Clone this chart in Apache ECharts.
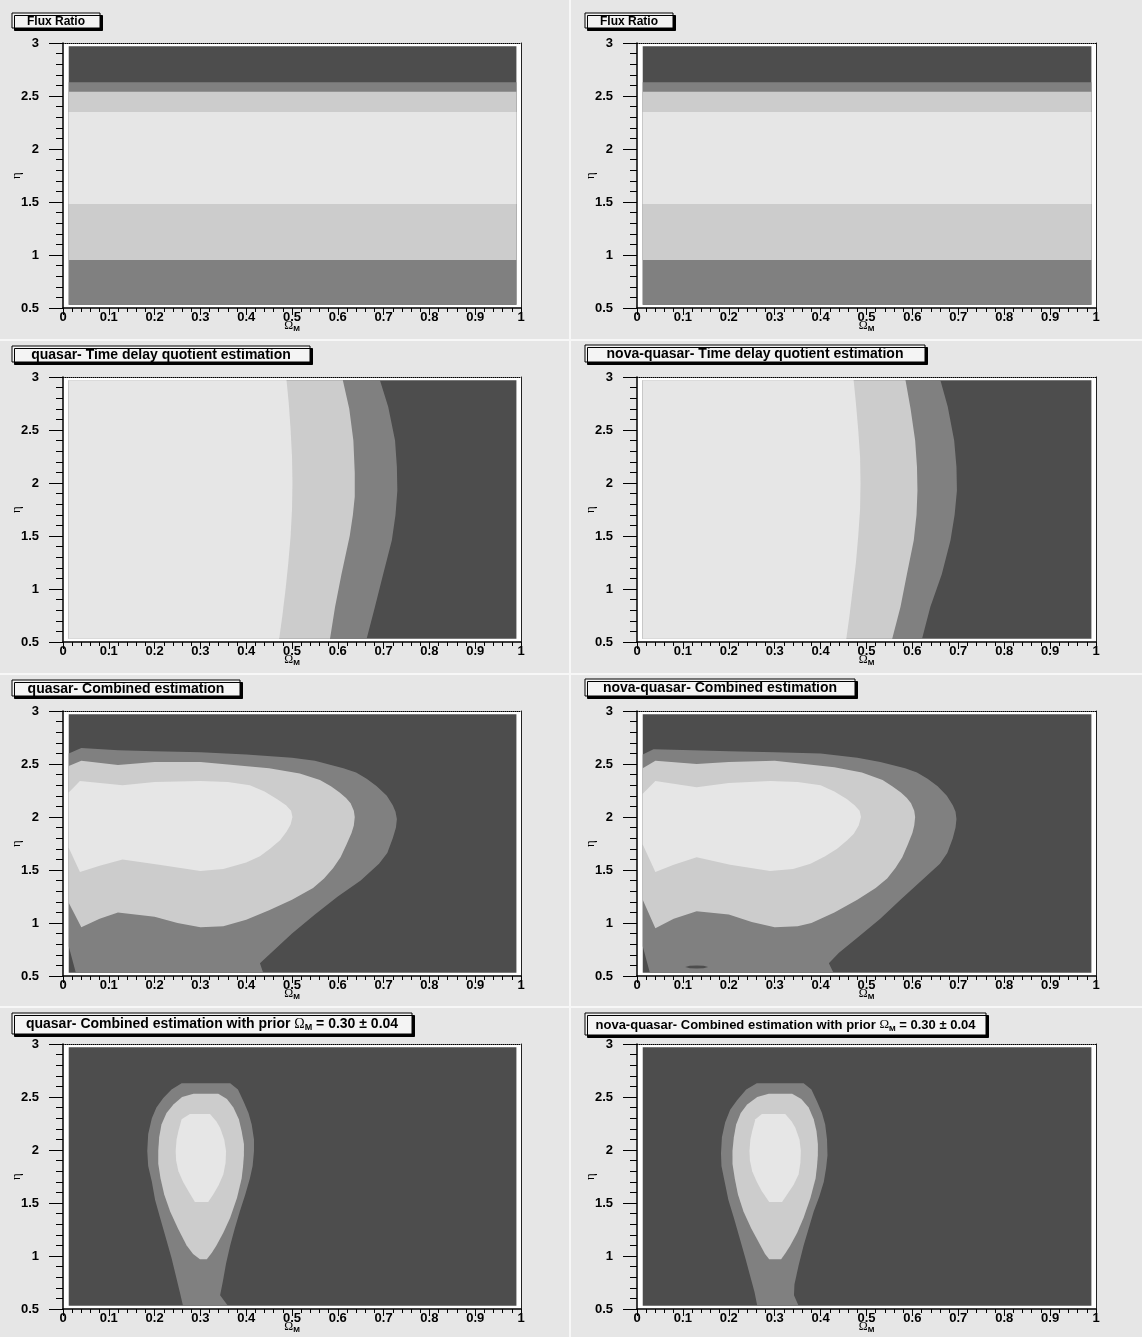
<!DOCTYPE html>
<html>
<head>
<meta charset="utf-8">
<script src="https://cdn.jsdelivr.net/npm/echarts@6/dist/echarts.min.js"></script>
<style>
  html, body { margin: 0; padding: 0; background: #e6e6e6; }
  #chart { width: 1142px; height: 1337px; }
</style>
</head>
<body>
<div id="chart"></div>
<script>
// grey levels of the contour fill, darkest = lowest likelihood
const levelColors = ['#4d4d4d', '#808080', '#cccccc', '#e6e6e6'];

// axis ticks
const omegaRange = [0, 1, 0.1];
const etaRange = [0.5, 3, 0.5];

// extent of the filled contour grid (first / last bin centre)
const fillOmega = [0.0125, 0.99];
const fillEta = [0.53, 2.97];

const panelTitles = [
  'Flux Ratio', 'Flux Ratio',
  'quasar- Time delay quotient estimation', 'nova-quasar- Time delay quotient estimation',
  'quasar- Combined estimation', 'nova-quasar- Combined estimation',
  'quasar- Combined estimation with prior ', 'nova-quasar- Combined estimation with prior '
];
const priorText = ' = 0.30 \u00b1 0.04';

// ---- Flux ratio (eta bands, same for both) ----
const fluxLevel1 = [0.53, 2.63];
const fluxLevel2 = [0.953, 2.54];
const fluxLevel3 = [1.48, 2.35];

// ---- Time delay quotient: right-hand edge of each level, bottom to top ----
const tdQuasar1 = [[0.663, 0.53], [0.681, 0.83], [0.699, 1.14], [0.718, 1.46], [0.726, 1.70], [0.730, 1.93], [0.729, 2.15], [0.725, 2.40], [0.710, 2.72], [0.692, 2.97]];
const tdQuasar2 = [[0.583, 0.53], [0.594, 0.83], [0.608, 1.14], [0.626, 1.50], [0.633, 1.70], [0.637, 1.87], [0.637, 2.10], [0.634, 2.40], [0.625, 2.70], [0.611, 2.97]];
const tdQuasar3 = [[0.472, 0.53], [0.479, 0.75], [0.486, 1.00], [0.492, 1.25], [0.497, 1.50], [0.500, 1.75], [0.501, 2.00], [0.500, 2.25], [0.497, 2.50], [0.493, 2.75], [0.488, 2.97]];

const tdNova1 = [[0.621, 0.53], [0.639, 0.83], [0.664, 1.14], [0.683, 1.46], [0.692, 1.70], [0.697, 1.93], [0.696, 2.15], [0.691, 2.40], [0.677, 2.72], [0.661, 2.97]];
const tdNova2 = [[0.556, 0.53], [0.574, 0.83], [0.588, 1.14], [0.603, 1.46], [0.609, 1.70], [0.611, 1.93], [0.610, 2.15], [0.606, 2.40], [0.596, 2.70], [0.585, 2.97]];
const tdNova3 = [[0.456, 0.53], [0.463, 0.75], [0.470, 1.00], [0.477, 1.25], [0.482, 1.50], [0.486, 1.75], [0.487, 2.00], [0.486, 2.25], [0.482, 2.50], [0.477, 2.75], [0.472, 2.97]];

// ---- Combined estimation: closed contours ----
const combQuasar1 = [[0.0125, 0.78], [0.028, 0.53], [0.437, 0.53], [0.43, 0.62], [0.45, 0.70], [0.50, 0.90], [0.55, 1.08], [0.60, 1.25], [0.65, 1.40], [0.69, 1.56], [0.708, 1.66], [0.72, 1.80], [0.727, 1.90], [0.729, 1.98], [0.726, 2.05], [0.72, 2.11], [0.707, 2.20], [0.685, 2.29], [0.663, 2.36], [0.64, 2.42], [0.612, 2.46], [0.55, 2.53], [0.50, 2.56], [0.40, 2.59], [0.30, 2.61], [0.20, 2.62], [0.12, 2.63], [0.04, 2.65], [0.0125, 2.60]];
const combQuasar2 = [[0.0125, 1.19], [0.04, 0.96], [0.08, 1.04], [0.12, 1.10], [0.20, 1.06], [0.25, 1.00], [0.30, 0.96], [0.35, 0.97], [0.40, 1.03], [0.45, 1.12], [0.50, 1.22], [0.546, 1.33], [0.57, 1.42], [0.59, 1.52], [0.606, 1.62], [0.619, 1.74], [0.63, 1.85], [0.635, 1.92], [0.637, 2.00], [0.635, 2.06], [0.628, 2.13], [0.618, 2.18], [0.604, 2.23], [0.585, 2.29], [0.561, 2.35], [0.517, 2.41], [0.45, 2.46], [0.30, 2.52], [0.20, 2.52], [0.12, 2.49], [0.04, 2.53], [0.0125, 2.48]];
const combQuasar3 = [[0.0125, 1.71], [0.037, 1.48], [0.08, 1.54], [0.13, 1.60], [0.21, 1.55], [0.30, 1.49], [0.35, 1.51], [0.40, 1.57], [0.43, 1.63], [0.452, 1.70], [0.474, 1.78], [0.488, 1.86], [0.497, 1.93], [0.501, 2.00], [0.498, 2.06], [0.487, 2.11], [0.467, 2.17], [0.44, 2.24], [0.408, 2.30], [0.36, 2.33], [0.30, 2.34], [0.20, 2.33], [0.13, 2.30], [0.037, 2.34], [0.0125, 2.23]];

const combNova1 = [[0.0125, 0.78], [0.028, 0.53], [0.428, 0.53], [0.418, 0.62], [0.44, 0.72], [0.48, 0.86], [0.53, 1.04], [0.574, 1.22], [0.62, 1.40], [0.66, 1.56], [0.676, 1.66], [0.688, 1.80], [0.694, 1.90], [0.696, 1.98], [0.694, 2.05], [0.688, 2.11], [0.675, 2.20], [0.655, 2.29], [0.633, 2.36], [0.61, 2.42], [0.584, 2.46], [0.53, 2.52], [0.48, 2.56], [0.40, 2.60], [0.30, 2.61], [0.20, 2.62], [0.12, 2.63], [0.036, 2.64], [0.0125, 2.59]];
const combNova2 = [[0.0125, 1.22], [0.04, 0.95], [0.08, 1.04], [0.13, 1.11], [0.20, 1.08], [0.25, 1.01], [0.30, 0.96], [0.35, 0.97], [0.38, 1.00], [0.43, 1.10], [0.48, 1.22], [0.52, 1.33], [0.545, 1.42], [0.563, 1.52], [0.578, 1.62], [0.59, 1.74], [0.60, 1.85], [0.604, 1.92], [0.606, 2.00], [0.604, 2.06], [0.597, 2.13], [0.588, 2.18], [0.575, 2.23], [0.556, 2.29], [0.535, 2.35], [0.49, 2.42], [0.43, 2.47], [0.30, 2.53], [0.20, 2.52], [0.13, 2.50], [0.04, 2.53], [0.0125, 2.46]];
const combNova3 = [[0.0125, 1.74], [0.04, 1.48], [0.08, 1.55], [0.13, 1.62], [0.203, 1.55], [0.29, 1.49], [0.34, 1.51], [0.378, 1.56], [0.41, 1.63], [0.436, 1.70], [0.458, 1.78], [0.472, 1.84], [0.483, 1.92], [0.488, 2.00], [0.485, 2.06], [0.474, 2.11], [0.457, 2.17], [0.43, 2.24], [0.40, 2.30], [0.35, 2.33], [0.29, 2.34], [0.20, 2.32], [0.13, 2.28], [0.04, 2.34], [0.0125, 2.22]];
const combNovaHole = [[0.105, 0.585], [0.115, 0.596], [0.13, 0.599], [0.145, 0.596], [0.155, 0.585], [0.145, 0.574], [0.13, 0.571], [0.115, 0.574]];

// ---- Combined with prior ----
const priorQuasar1 = [[0.262, 0.53], [0.255, 0.66], [0.246, 0.82], [0.237, 0.98], [0.224, 1.18], [0.212, 1.36], [0.201, 1.53], [0.194, 1.70], [0.186, 1.85], [0.184, 1.99], [0.186, 2.15], [0.194, 2.30], [0.204, 2.40], [0.219, 2.49], [0.237, 2.57], [0.259, 2.63], [0.365, 2.63], [0.382, 2.57], [0.394, 2.46], [0.405, 2.35], [0.412, 2.24], [0.417, 2.10], [0.417, 1.99], [0.414, 1.85], [0.408, 1.73], [0.398, 1.58], [0.386, 1.42], [0.375, 1.26], [0.365, 1.10], [0.356, 0.93], [0.349, 0.76], [0.343, 0.63], [0.36, 0.53]];
const priorQuasar2 = [[0.299, 0.97], [0.284, 1.02], [0.27, 1.10], [0.251, 1.26], [0.234, 1.42], [0.221, 1.58], [0.213, 1.73], [0.208, 1.87], [0.208, 1.99], [0.21, 2.12], [0.215, 2.24], [0.226, 2.35], [0.241, 2.43], [0.26, 2.50], [0.285, 2.53], [0.339, 2.53], [0.358, 2.48], [0.372, 2.40], [0.384, 2.29], [0.39, 2.18], [0.395, 2.06], [0.395, 1.95], [0.393, 1.84], [0.39, 1.73], [0.38, 1.55], [0.365, 1.36], [0.35, 1.22], [0.335, 1.10], [0.325, 1.03], [0.314, 0.97]];
const priorQuasar3 = [[0.288, 1.51], [0.274, 1.61], [0.262, 1.70], [0.252, 1.80], [0.247, 1.90], [0.246, 1.99], [0.248, 2.10], [0.252, 2.18], [0.259, 2.29], [0.277, 2.34], [0.321, 2.34], [0.335, 2.27], [0.343, 2.21], [0.352, 2.10], [0.356, 1.99], [0.355, 1.88], [0.35, 1.77], [0.34, 1.67], [0.328, 1.58], [0.317, 1.51]];

const priorNova1 = [[0.262, 0.53], [0.256, 0.66], [0.246, 0.82], [0.236, 0.98], [0.223, 1.18], [0.211, 1.36], [0.199, 1.53], [0.191, 1.70], [0.184, 1.85], [0.183, 1.97], [0.185, 2.12], [0.192, 2.26], [0.203, 2.38], [0.218, 2.47], [0.238, 2.57], [0.261, 2.63], [0.363, 2.63], [0.38, 2.57], [0.392, 2.46], [0.403, 2.35], [0.41, 2.24], [0.414, 2.10], [0.415, 1.95], [0.412, 1.83], [0.407, 1.70], [0.397, 1.56], [0.385, 1.42], [0.374, 1.26], [0.363, 1.10], [0.352, 0.91], [0.343, 0.73], [0.342, 0.63], [0.352, 0.53]];
const priorNova2 = [[0.288, 0.97], [0.279, 1.02], [0.269, 1.10], [0.249, 1.26], [0.232, 1.42], [0.22, 1.58], [0.213, 1.73], [0.208, 1.87], [0.208, 1.99], [0.211, 2.12], [0.216, 2.24], [0.226, 2.35], [0.24, 2.43], [0.262, 2.50], [0.287, 2.53], [0.338, 2.53], [0.358, 2.48], [0.374, 2.40], [0.385, 2.29], [0.391, 2.18], [0.394, 2.06], [0.394, 1.95], [0.392, 1.84], [0.389, 1.73], [0.378, 1.55], [0.363, 1.36], [0.349, 1.22], [0.334, 1.10], [0.324, 1.03], [0.314, 0.97]];
const priorNova3 = [[0.288, 1.51], [0.272, 1.61], [0.261, 1.70], [0.251, 1.80], [0.246, 1.90], [0.245, 1.99], [0.247, 2.10], [0.251, 2.18], [0.258, 2.29], [0.272, 2.34], [0.323, 2.34], [0.337, 2.27], [0.345, 2.21], [0.354, 2.10], [0.357, 1.99], [0.356, 1.88], [0.352, 1.77], [0.341, 1.67], [0.327, 1.58], [0.316, 1.51]];

// ---------------------------------------------------------------
const font = '"Liberation Sans", Arial, Helvetica, sans-serif';
const serif = '"Liberation Serif", "DejaVu Serif", serif';

const colLeft = [63, 637];
const colWidth = [458, 459];
const rowTop = [43, 377, 711, 1044];
const plotHeight = 265;

// title boxes: [x, y, w, h, fontSize]
const titleBoxes = [
  [12, 13, 88, 15, 12], [585, 13, 88, 15, 12],
  [12, 346, 298, 16, 14], [585, 345, 340, 17, 14],
  [12, 680, 228, 16, 14], [585, 679, 270, 17, 14],
  [12, 1013, 400, 21, 14], [585, 1013, 401, 22, 13]
];

function rect(o0, o1, e0, e1) {
  return [[o0, e0], [o1, e0], [o1, e1], [o0, e1]];
}
// region left of a boundary running bottom -> top
function leftOf(edge) {
  return [[fillOmega[0], fillEta[0]]].concat(edge, [[fillOmega[0], fillEta[1]]]);
}

const panels = [
  [rect(fillOmega[0], fillOmega[1], fluxLevel1[0], fluxLevel1[1]),
   rect(fillOmega[0], fillOmega[1], fluxLevel2[0], fluxLevel2[1]),
   rect(fillOmega[0], fillOmega[1], fluxLevel3[0], fluxLevel3[1])],
  [rect(fillOmega[0], fillOmega[1], fluxLevel1[0], fluxLevel1[1]),
   rect(fillOmega[0], fillOmega[1], fluxLevel2[0], fluxLevel2[1]),
   rect(fillOmega[0], fillOmega[1], fluxLevel3[0], fluxLevel3[1])],
  [leftOf(tdQuasar1), leftOf(tdQuasar2), leftOf(tdQuasar3)],
  [leftOf(tdNova1), leftOf(tdNova2), leftOf(tdNova3)],
  [combQuasar1, combQuasar2, combQuasar3],
  [combNova1, combNova2, combNova3],
  [priorQuasar1, priorQuasar2, priorQuasar3],
  [priorNova1, priorNova2, priorNova3]
];
// extra dark islands drawn after the contours
const islands = { 5: [combNovaHole] };

const grid = [], xAxis = [], yAxis = [], series = [], graphic = [];

function polySeries(ax, pts, color) {
  return {
    type: 'custom',
    xAxisIndex: ax, yAxisIndex: ax,
    silent: true,
    clip: true,
    data: [[0.5, 1.75]],
    renderItem: (params, api) => ({
      type: 'polygon',
      shape: { points: pts.map(p => api.coord(p)) },
      style: { fill: color, stroke: null }
    })
  };
}

const tickLabel = { fontFamily: font, fontWeight: 'bold', fontSize: 13, color: '#000' };

panels.forEach((levels, i) => {
  const col = i % 2, row = Math.floor(i / 2);
  grid.push({
    left: colLeft[col], top: rowTop[row], width: colWidth[col], height: plotHeight,
    show: true, backgroundColor: '#ffffff', borderWidth: 0
  });
  const ax = xAxis.length;
  xAxis.push({
    gridIndex: i, type: 'value', position: 'bottom',
    min: omegaRange[0], max: omegaRange[1], interval: omegaRange[2],
    axisLine: { show: true, onZero: false, lineStyle: { color: '#000', width: 1.5 } },
    axisTick: { show: true, inside: false, length: 7, lineStyle: { color: '#000', width: 1 } },
    minorTick: { show: true, splitNumber: 5, length: 4, lineStyle: { color: '#000', width: 1 } },
    splitLine: { show: false },
    axisLabel: Object.assign({ margin: 3, showMinLabel: true, showMaxLabel: true }, tickLabel),
    name: '{o|\u03a9}{s|M}', nameLocation: 'middle', nameGap: 11, nameMoveOverlap: false,
    nameTextStyle: {
      rich: {
        o: { fontFamily: serif, fontSize: 12, color: '#000', lineHeight: 14 },
        s: { fontFamily: font, fontWeight: 'bold', fontSize: 8, color: '#000', verticalAlign: 'bottom', lineHeight: 8, padding: [6, 0, 0, 0] }
      }
    },
    z: 5
  });
  xAxis.push({
    gridIndex: i, type: 'value', position: 'top',
    min: omegaRange[0], max: omegaRange[1],
    axisLine: { show: true, onZero: false, lineStyle: { color: '#000', width: 1, type: [1, 1] } },
    axisTick: { show: false }, axisLabel: { show: false }, splitLine: { show: false }, z: 5
  });
  yAxis.push({
    gridIndex: i, type: 'value', position: 'left',
    min: etaRange[0], max: etaRange[1], interval: etaRange[2],
    axisLine: { show: true, onZero: false, lineStyle: { color: '#000', width: 1.5 } },
    axisTick: { show: true, inside: false, length: 14, lineStyle: { color: '#000', width: 1 } },
    minorTick: { show: true, splitNumber: 5, length: 7, lineStyle: { color: '#000', width: 1 } },
    splitLine: { show: false },
    axisLabel: Object.assign({ margin: 24, showMinLabel: true, showMaxLabel: true }, tickLabel),
    name: '\u03b7', nameLocation: 'middle', nameGap: 40, nameRotate: 90, nameMoveOverlap: false,
    nameTextStyle: { fontFamily: serif, fontSize: 13, color: '#000' },
    z: 5
  });
  yAxis.push({
    gridIndex: i, type: 'value', position: 'right',
    min: etaRange[0], max: etaRange[1],
    axisLine: { show: true, onZero: false, lineStyle: { color: '#222', width: 1 } },
    axisTick: { show: false }, axisLabel: { show: false }, splitLine: { show: false }, z: 5
  });

  series.push(polySeries(ax, rect(fillOmega[0], fillOmega[1], fillEta[0], fillEta[1]), levelColors[0]));
  levels.forEach((pts, k) => series.push(polySeries(ax, pts, levelColors[k + 1])));
  (islands[i] || []).forEach(pts => series.push(polySeries(ax, pts, levelColors[0])));

  // title box
  const b = titleBoxes[i];
  graphic.push({
    type: 'rect', z: 10,
    shape: { x: b[0], y: b[1], width: b[2], height: b[3] },
    style: { fill: '#f4f4f4', stroke: '#000', lineWidth: 1, shadowColor: '#000', shadowOffsetX: 2.5, shadowOffsetY: 2.5, shadowBlur: 0 }
  });
  const sz = b[4];
  const txt = row === 3
    ? '{a|' + panelTitles[i] + '}{o|\u03a9}{s|M}{a|' + priorText + '}'
    : '{a|' + panelTitles[i] + '}';
  graphic.push({
    type: 'text', z: 11,
    x: b[0] + b[2] / 2, y: b[1] + b[3] / 2 + 1,
    style: {
      text: txt, align: 'center', verticalAlign: 'middle',
      rich: {
        a: { fontFamily: font, fontWeight: 'bold', fontSize: sz, fill: '#000', lineHeight: 16 },
        o: { fontFamily: serif, fontSize: sz, fill: '#000', lineHeight: 16 },
        s: { fontFamily: font, fontWeight: 'bold', fontSize: sz - 5, fill: '#000', lineHeight: 9, verticalAlign: 'bottom', padding: [4, 0, 0, 0] }
      }
    }
  });
});

// pad separators
[339, 673, 1006].forEach(y => graphic.push({
  type: 'rect', z: 1, shape: { x: 0, y: y, width: 1142, height: 2 }, style: { fill: '#f7f7f7' }
}));
graphic.push({ type: 'rect', z: 1, shape: { x: 569, y: 0, width: 2, height: 1337 }, style: { fill: '#f7f7f7' } });

const chart = echarts.init(document.getElementById('chart'), null, { renderer: 'canvas' });
chart.setOption({
  backgroundColor: '#e6e6e6',
  animation: false,
  grid: grid,
  xAxis: xAxis,
  yAxis: yAxis,
  series: series,
  graphic: graphic
});
</script>
</body>
</html>
